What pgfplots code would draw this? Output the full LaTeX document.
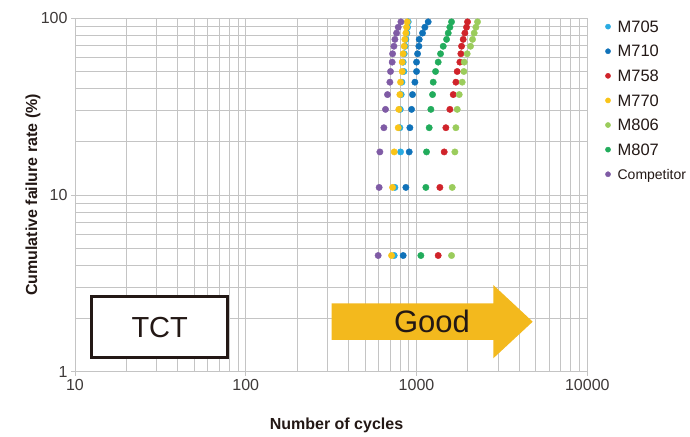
\documentclass[border=0pt]{standalone}
\usepackage{pgfplots}
\pgfplotsset{compat=1.18}
\usepackage{fontspec}
\setmainfont{Liberation Sans}
\definecolor{cM705}{RGB}{41,171,226}
\definecolor{cM710}{RGB}{16,114,185}
\definecolor{cM758}{RGB}{208,35,42}
\definecolor{cM770}{RGB}{249,196,24}
\definecolor{cM806}{RGB}{155,204,92}
\definecolor{cM807}{RGB}{34,172,92}
\definecolor{cComp}{RGB}{127,91,165}
\definecolor{gridc}{RGB}{196,196,196}
\definecolor{txt}{RGB}{62,58,57}
\definecolor{dark}{RGB}{35,24,21}
\definecolor{goodc}{RGB}{243,185,29}
\begin{document}
\begin{tikzpicture}
\path[use as bounding box] (-75bp,-65.3bp) rectangle (615bp,371.7bp);
\begin{axis}[
  at={(0,0)}, anchor=south west,
  scale only axis, width=512.3bp, height=353.4bp,
  xmode=log, ymode=log,
  xmin=10, xmax=10000, ymin=1, ymax=100,
  xtick={10,100,1000,10000}, xticklabels={10,100,1000,10000},
  ytick={1,10,100}, yticklabels={1,10,100},
  minor xtick={20,30,40,50,60,70,80,90,200,300,400,500,600,700,800,900,2000,3000,4000,5000,6000,7000,8000,9000},
  minor ytick={2,3,4,5,6,7,8,9,20,30,40,50,60,70,80,90},
  grid=both,
  major grid style={gridc, line width=0.9bp},
  minor grid style={gridc, line width=0.9bp},
  axis line style={gridc, line width=0.9bp},
  tick pos=left, tick align=outside,
  major tick length=4bp, minor tick length=0pt,
  tick style={gridc, line width=0.9bp},
  ticklabel style={font=\fontsize{16bp}{16bp}\selectfont, text=txt},
  xlabel={Number of cycles},
  ylabel={Cumulative failure rate (\%)},
  label style={font=\fontsize{16bp}{16bp}\selectfont\bfseries, text=dark},
  xlabel style={at={(axis description cs:0.5104,-0.1528)}, anchor=center},
  ylabel style={at={(axis description cs:-0.082,0.5)}, anchor=center},
  legend style={draw=none, fill=none, inner sep=0pt, outer sep=0pt,
    at={(axis description cs:1,1)}, anchor=north west, xshift=18.1bp, yshift=-2.6bp,
    row sep=13.1bp,
    font=\fontsize{16.5bp}{16.5bp}\selectfont, text=dark,
    nodes={inner sep=0pt, text height=11.5bp, text depth=0bp},
    /tikz/every odd column/.append style={column sep=7bp}},
  legend cell align=left,
  legend image code/.code={\draw[#1, mark size=2.6bp] plot coordinates {(0bp,0bp)};},
  every axis plot/.append style={only marks, mark=*, mark size=3.2bp},
]
\addplot[cM705, mark options={draw=none, fill=cM705}] coordinates {
(740,4.545) (747,11.039) (806,17.532) (799,24.026) (803,30.519) (813,37.013) (821,43.506) (843,50.000) (835,56.494) (847,62.987) (858,69.481) (866,75.974) (878,82.468) (886,88.961) (894,95.455)};
\addlegendentry{M705}
\addplot[cM710, mark options={draw=none, fill=cM710}] coordinates {
(835,4.545) (866,11.039) (906,17.532) (914,24.026) (935,30.519) (947,37.013) (978,43.506) (1000,50.000) (1000,56.494) (1014,62.987) (1032,69.481) (1037,75.974) (1084,82.468) (1119,88.961) (1170,95.455)};
\addlegendentry{M710}
\addplot[cM758, mark options={draw=none, fill=cM758}] coordinates {
(1339,4.545) (1370,11.039) (1452,17.532) (1485,24.026) (1568,30.519) (1640,37.013) (1700,43.506) (1731,50.000) (1794,56.494) (1818,62.987) (1835,69.481) (1876,75.974) (1919,82.468) (1962,88.961) (1989,95.455)};
\addlegendentry{M758}
\addplot[cM770, mark options={draw=none, fill=cM770}] coordinates {
(714,4.545) (724,11.039) (740,17.532) (781,24.026) (788,30.519) (799,37.013) (806,43.506) (824,50.000) (824,56.494) (835,62.987) (847,69.481) (854,75.974) (866,82.468) (874,88.961) (882,95.455)};
\addlegendentry{M770}
\addplot[cM806, mark options={draw=none, fill=cM806}] coordinates {
(1603,4.545) (1618,11.039) (1677,17.532) (1700,24.026) (1731,30.519) (1778,37.013) (1851,43.506) (1893,50.000) (1902,56.494) (1980,62.987) (2071,69.481) (2128,75.974) (2176,82.468) (2226,88.961) (2276,95.455)};
\addlegendentry{M806}
\addplot[cM807, mark options={draw=none, fill=cM807}] coordinates {
(1060,4.545) (1134,11.039) (1144,17.532) (1186,24.026) (1213,30.519) (1241,37.013) (1252,43.506) (1292,50.000) (1339,56.494) (1382,62.987) (1433,69.481) (1499,75.974) (1533,82.468) (1568,88.961) (1603,95.455)};
\addlegendentry{M807}
\addplot[cComp, mark options={draw=none, fill=cComp}] coordinates {
(596,4.545) (604,11.039) (610,17.532) (644,24.026) (658,30.519) (676,37.013) (698,43.506) (704,50.000) (720,56.494) (724,62.987) (737,69.481) (747,75.974) (764,82.468) (781,88.961) (810,95.455)};
\addlegendentry{\fontsize{14bp}{14bp}\selectfont Competitor}
\end{axis}
% annotations
\draw[dark, line width=2.5bp, fill=white] (16.7bp,14.4bp) rectangle (152.7bp,75bp);
\node[text=dark, font=\fontsize{29bp}{29bp}\selectfont] at (84.7bp,44bp) {TCT};
\fill[goodc] (256.7bp,31.7bp) -- (418.3bp,31.7bp) -- (418.3bp,13.4bp) -- (457.7bp,50bp) -- (418.3bp,86.7bp) -- (418.3bp,68.4bp) -- (256.7bp,68.4bp) -- cycle;
\node[text=dark, font=\fontsize{31bp}{31bp}\selectfont] at (357bp,50bp) {Good};
\end{tikzpicture}
\end{document}
